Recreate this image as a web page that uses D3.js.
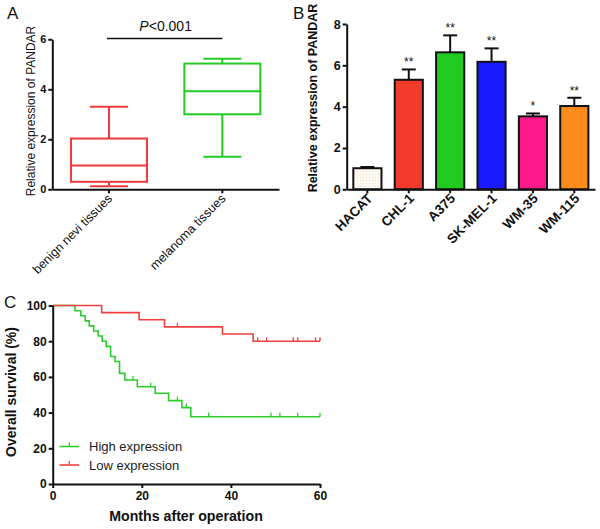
<!DOCTYPE html>
<html><head><meta charset="utf-8">
<script src="https://cdn.jsdelivr.net/npm/d3@7"></script>
<style>body{margin:0;background:#fff} svg{font-family:"Liberation Sans",Arial,sans-serif}</style>
</head><body><svg id="c" width="600" height="529"></svg>
<script>
// ---- Panel A data ----
const boxCategories = ["benign nevi tissues", "melanoma tissues"];
const boxMin = [0.12, 1.3];
const boxQ1 = [0.30, 3.0];
const boxMedian = [0.95, 3.92];
const boxQ3 = [2.03, 5.03];
const boxMax = [3.3, 5.22];
const boxColors = ["#f03a3a", "#22cc22"];
const boxTicks = [0, 2, 4, 6];

// ---- Panel B data ----
const barCategories = ["HACAT", "CHL-1", "A375", "SK-MEL-1", "WM-35", "WM-115"];
const barValues = [1.02, 5.3, 6.63, 6.17, 3.53, 4.03];
const barErrors = [0.06, 0.5, 0.82, 0.65, 0.14, 0.4];
const barStars = ["", "**", "**", "**", "*", "**"];
const barColors = ["url(#dots)", "#f23b2a", "#1fcc1f", "#1a1aff", "#ff1a8c", "#ff8c1a"];
const barTicks = [0, 2, 4, 6, 8];

// ---- Panel C data ----
const highTimes = [0, 5, 6.3, 7.3, 8.2, 9.2, 10.2, 11.1, 12, 13, 14, 15, 16.2, 19, 23, 26, 29, 31, 60];
const highSurv = [100, 97.1, 94.3, 91.4, 88.6, 85.7, 82.9, 80, 77.1, 71.4, 68.6, 62, 58.3, 54.5, 50.8, 46.7, 42.8, 37.7, 37.7];
const highCensor = [18, 22, 28, 30, 35, 49, 51, 55, 60];
const lowTimes = [0, 11, 19.4, 25.1, 38.1, 45, 60];
const lowSurv = [100, 96, 92, 88, 84, 80, 80];
const lowCensor = [28, 46, 48, 54, 55, 59, 60];
const kmXTicks = [0, 20, 40, 60];
const kmYTicks = [0, 20, 40, 60, 80, 100];
const legendLabels = ["High expression", "Low expression"];
const kmColors = ["#2ccc2c", "#f04040"];

const svg = d3.select("#c");
const defs = svg.append("defs");
const pat = defs.append("pattern").attr("id", "dots").attr("width", 3).attr("height", 3).attr("patternUnits", "userSpaceOnUse");
pat.append("rect").attr("width", 3).attr("height", 3).attr("fill", "#fffaf3");
pat.append("rect").attr("width", 1).attr("height", 1).attr("fill", "#f3dcc0");
const intFmt = d3.format("d");

function styleAxis(g, fs, bold) {
  g.selectAll("path,line").attr("stroke", "#111").attr("stroke-width", 2);
  g.selectAll("text").attr("font-size", fs).attr("font-weight", bold ? "bold" : "normal")
    .attr("fill", "#111").attr("font-family", "'Liberation Sans',Arial,sans-serif");
}

// ================= Panel A =================
{
  const x = d3.scaleBand().domain(boxCategories).range([52.3, 279]).padding(0);
  const y = d3.scaleLinear().domain([0, 6]).range([189.3, 39.3]);
  const gy = svg.append("g").attr("transform", "translate(52.3,0)")
    .call(d3.axisLeft(y).tickValues(boxTicks).tickFormat(intFmt).tickSize(4).tickSizeOuter(0).tickPadding(2));
  styleAxis(gy, 11, true);
  const gx = svg.append("g").attr("transform", "translate(0,189.3)")
    .call(d3.axisBottom(x).tickSize(4).tickSizeOuter(0));
  styleAxis(gx, 12.5, false);
  gx.selectAll("text").attr("text-anchor", "end").attr("dy", null).attr("y", 0)
    .attr("transform", "translate(4,10) rotate(-45)");

  const bw = 76;
  boxCategories.forEach((c, i) => {
    const cx = x(c) + x.bandwidth() / 2;
    const g = svg.append("g").attr("stroke", boxColors[i]).attr("stroke-width", 2).attr("fill", "none");
    g.append("rect").attr("x", cx - bw / 2).attr("y", y(boxQ3[i])).attr("width", bw).attr("height", y(boxQ1[i]) - y(boxQ3[i]));
    g.append("line").attr("x1", cx - bw / 2).attr("x2", cx + bw / 2).attr("y1", y(boxMedian[i])).attr("y2", y(boxMedian[i]));
    g.append("line").attr("x1", cx).attr("x2", cx).attr("y1", y(boxQ3[i])).attr("y2", y(boxMax[i]));
    g.append("line").attr("x1", cx).attr("x2", cx).attr("y1", y(boxQ1[i])).attr("y2", y(boxMin[i]));
    g.append("line").attr("x1", cx - bw / 4).attr("x2", cx + bw / 4).attr("y1", y(boxMax[i])).attr("y2", y(boxMax[i]));
    g.append("line").attr("x1", cx - bw / 4).attr("x2", cx + bw / 4).attr("y1", y(boxMin[i])).attr("y2", y(boxMin[i]));
  });
  const c0 = x(boxCategories[0]) + x.bandwidth() / 2, c1 = x(boxCategories[1]) + x.bandwidth() / 2;
  svg.append("line").attr("x1", c0 - 2).attr("x2", c1).attr("y1", 38.5).attr("y2", 38.5).attr("stroke", "#111").attr("stroke-width", 1.5);
  const pt = svg.append("text").attr("x", (c0 + c1) / 2).attr("y", 30.5).attr("text-anchor", "middle").attr("font-size", 14).attr("fill", "#111");
  pt.append("tspan").attr("font-style", "italic").text("P");
  pt.append("tspan").text("<0.001");
  svg.append("text").attr("transform", "translate(35,111) rotate(-90)").attr("text-anchor", "middle")
    .attr("font-size", 12).attr("fill", "#111").text("Relative expression of PANDAR");
  svg.append("text").attr("x", 7).attr("y", 19).attr("font-size", 17).attr("fill", "#111").text("A");
}

// ================= Panel B =================
{
  const x = d3.scaleBand().domain(barCategories).range([346.7, 595]).paddingInner(0.32).paddingOuter(0.16);
  const y = d3.scaleLinear().domain([0, 8]).range([189.3, 24]);
  const bars = svg.append("g");
  barCategories.forEach((c, i) => {
    const x0 = x(c), w = x.bandwidth(), cx = x0 + w / 2;
    const top = y(barValues[i] + barErrors[i]);
    bars.append("line").attr("x1", cx).attr("x2", cx).attr("y1", y(barValues[i])).attr("y2", top).attr("stroke", "#111").attr("stroke-width", 2);
    bars.append("line").attr("x1", cx - 7).attr("x2", cx + 7).attr("y1", top).attr("y2", top).attr("stroke", "#111").attr("stroke-width", 2);
    bars.append("rect").attr("x", x0).attr("y", y(barValues[i])).attr("width", w).attr("height", y(0) - y(barValues[i]))
      .attr("fill", barColors[i]).attr("stroke", "#111").attr("stroke-width", 2);
    if (barStars[i]) bars.append("text").attr("x", cx).attr("y", top - 3).attr("text-anchor", "middle")
      .attr("font-size", 12).attr("fill", "#111").text(barStars[i]);
  });
  const gy = svg.append("g").attr("transform", "translate(346.7,0)")
    .call(d3.axisLeft(y).tickValues(barTicks).tickFormat(intFmt).tickSize(4).tickSizeOuter(0).tickPadding(2));
  styleAxis(gy, 12.5, true);
  const gx = svg.append("g").attr("transform", "translate(0,189.3)")
    .call(d3.axisBottom(x).tickSize(4).tickSizeOuter(0));
  styleAxis(gx, 13.5, true);
  gx.selectAll("text").attr("text-anchor", "end").attr("dy", null).attr("y", 0)
    .attr("transform", "translate(6,10) rotate(-45)");
  svg.append("text").attr("transform", "translate(317,98) rotate(-90)").attr("text-anchor", "middle")
    .attr("font-size", 12.5).attr("font-weight", "bold").attr("fill", "#111").text("Relative expression of PANDAR");
  svg.append("text").attr("x", 293).attr("y", 19).attr("font-size", 17).attr("fill", "#111").text("B");
}

// ================= Panel C =================
{
  const x = d3.scaleLinear().domain([0, 60]).range([52.7, 320]);
  const y = d3.scaleLinear().domain([0, 100]).range([484, 305.5]);
  const line = d3.line().x(d => x(d[0])).y(d => y(d[1])).curve(d3.curveStepAfter);
  const series = [
    { t: highTimes, s: highSurv, c: highCensor, col: kmColors[0] },
    { t: lowTimes, s: lowSurv, c: lowCensor, col: kmColors[1] }
  ];
  series.forEach(sr => {
    const pts = sr.t.map((t, i) => [t, sr.s[i]]);
    svg.append("path").attr("d", line(pts)).attr("fill", "none").attr("stroke", sr.col).attr("stroke-width", 1.6);
    const bis = d3.bisector(d => d).right;
    sr.c.forEach(ct => {
      const v = sr.s[Math.max(0, bis(sr.t, ct) - 1)];
      svg.append("line").attr("x1", x(ct)).attr("x2", x(ct)).attr("y1", y(v)).attr("y2", y(v) - 4)
        .attr("stroke", sr.col).attr("stroke-width", 1.3);
    });
  });
  const gy = svg.append("g").attr("transform", "translate(52.7,0)")
    .call(d3.axisLeft(y).tickValues(kmYTicks).tickFormat(intFmt).tickSize(4).tickSizeOuter(0).tickPadding(2));
  styleAxis(gy, 12, true);
  const gx = svg.append("g").attr("transform", "translate(0,484)")
    .call(d3.axisBottom(x).tickValues(kmXTicks).tickFormat(intFmt).tickSize(4).tickSizeOuter(0).tickPadding(3));
  styleAxis(gx, 12, true);
  svg.append("text").attr("x", 186).attr("y", 521).attr("text-anchor", "middle").attr("font-size", 14.2)
    .attr("font-weight", "bold").attr("fill", "#111").text("Months after operation");
  svg.append("text").attr("transform", "translate(16,392) rotate(-90)").attr("text-anchor", "middle")
    .attr("font-size", 14).attr("font-weight", "bold").attr("fill", "#111").text("Overall survival (%)");
  svg.append("text").attr("x", 4).attr("y", 308).attr("font-size", 17).attr("fill", "#111").text("C");
  legendLabels.forEach((lab, i) => {
    const ly = 446.5 + i * 18.5;
    svg.append("line").attr("x1", 59.5).attr("x2", 79).attr("y1", ly).attr("y2", ly).attr("stroke", kmColors[i]).attr("stroke-width", 1.6);
    svg.append("line").attr("x1", 69.3).attr("x2", 69.3).attr("y1", ly).attr("y2", ly - 4).attr("stroke", kmColors[i]).attr("stroke-width", 1.3);
    svg.append("text").attr("x", 89).attr("y", ly + 4.5).attr("font-size", 13).attr("fill", "#222").text(lab);
  });
}
</script></body></html>
